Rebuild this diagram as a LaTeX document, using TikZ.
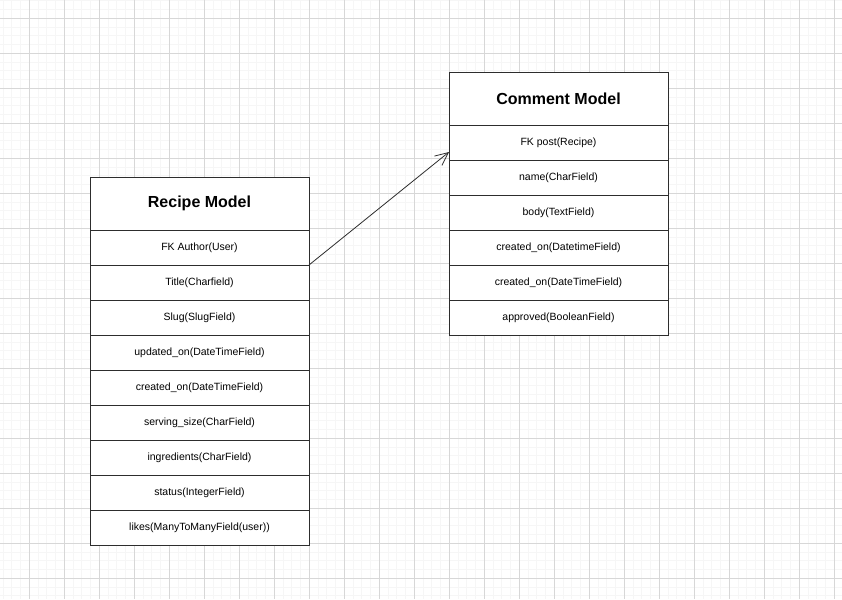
\documentclass[tikz,border=0pt]{standalone}
\usepackage{fontspec}
\setmainfont{Liberation Sans}
\usetikzlibrary{arrows.meta}
\definecolor{gridminor}{RGB}{246,246,246}
\definecolor{gridmajor}{RGB}{215,215,215}
\definecolor{boxline}{RGB}{45,45,45}
\begin{document}
\begin{tikzpicture}
		[x=1pt,y=-1pt,
		head/.style ={rectangle, draw=boxline, line width=0.85pt, fill=white, minimum width=219pt, minimum height=53pt, outer sep=0pt, font=\bfseries\fontsize{16}{19}\selectfont},
		field/.style ={rectangle, draw=boxline, line width=0.85pt, fill=white, minimum width=219pt, minimum height=35pt, outer sep=0pt, font=\fontsize{10.5}{12}\selectfont},
		link/.style ={draw=boxline, line width=0.8pt, -{Straight Barb[length=13pt,width=12pt]}},
		]
		\useasboundingbox (0,0) rectangle (842,599);
		\fill[white] (0,0) rectangle (842,599);

		% background grid
		\foreach \x in {3.05,11.8,...,842} \draw[gridminor, line width=1pt] (\x,0) -- (\x,599);
		\foreach \y in {0.8,9.55,...,599} \draw[gridminor, line width=1pt] (0,\y) -- (842,\y);
		\foreach \x in {29.3,64.3,...,842} \draw[gridmajor, line width=1pt] (\x,0) -- (\x,599);
		\foreach \y in {18.3,53.3,...,599} \draw[gridmajor, line width=1pt] (0,\y) -- (842,\y);

		% recipe model
		\draw (199.5,203.5) node[head] (RH) {Recipe Model};
		\draw (199.5,247.5) node[field] (R1) {FK Author(User)};
		\draw (199.5,282.5) node[field] (R2) {Title(Charfield)};
		\draw (199.5,317.5) node[field] (R3) {Slug(SlugField)};
		\draw (199.5,352.5) node[field] (R4) {updated\_on(DateTimeField)};
		\draw (199.5,387.5) node[field] (R5) {created\_on(DateTimeField)};
		\draw (199.5,422.5) node[field] (R6) {serving\_size(CharField)};
		\draw (199.5,457.5) node[field] (R7) {ingredients(CharField)};
		\draw (199.5,492.5) node[field] (R8) {status(IntegerField)};
		\draw (199.5,527.5) node[field] (R9) {likes(ManyToManyField(user))};

		% comment model
		\draw (558.5,98.5) node[head] (CH) {Comment Model};
		\draw (558.5,142.5) node[field] (C1) {FK post(Recipe)};
		\draw (558.5,177.5) node[field] (C2) {name(CharField)};
		\draw (558.5,212.5) node[field] (C3) {body(TextField)};
		\draw (558.5,247.5) node[field] (C4) {created\_on(DatetimeField)};
		\draw (558.5,282.5) node[field] (C5) {created\_on(DateTimeField)};
		\draw (558.5,317.5) node[field] (C6) {approved(BooleanField)};

		\coordinate (Ctip) at ([yshift=-9.5pt]C1.west);
		\path
		(R1.south east) edge[link] node {} (Ctip);

	\end{tikzpicture}
\end{document}
